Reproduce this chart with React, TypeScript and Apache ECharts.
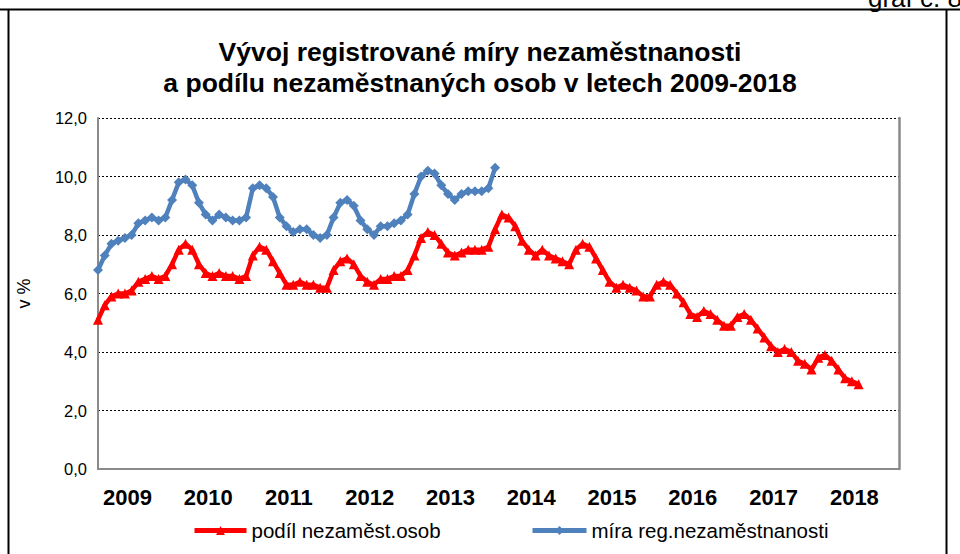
import React, { useEffect, useRef } from "react";
import * as echarts from "echarts";

const years = ["2009", "2010", "2011", "2012", "2013", "2014", "2015", "2016", "2017", "2018"];
const months = ["01", "02", "03", "04", "05", "06", "07", "08", "09", "10", "11", "12"];
const categories = years.flatMap((y) => months.map((m) => `${y}-${m}`));

const yTicks = [0, 2, 4, 6, 8, 10, 12];

// podíl nezaměstnaných osob (Jan 2009 – Jun 2018)
const podilNezamest = [
  5.1, 5.6, 5.9, 6.0, 6.0, 6.1, 6.4, 6.5, 6.6, 6.5, 6.6, 7.0,
  7.5, 7.7, 7.5, 7.0, 6.7, 6.6, 6.7, 6.6, 6.6, 6.5, 6.6, 7.3,
  7.6, 7.5, 7.1, 6.7, 6.3, 6.3, 6.4, 6.3, 6.3, 6.2, 6.2, 6.8,
  7.1, 7.2, 7.0, 6.6, 6.4, 6.3, 6.5, 6.5, 6.6, 6.6, 6.8, 7.3,
  7.9, 8.1, 8.0, 7.7, 7.4, 7.3, 7.4, 7.5, 7.5, 7.5, 7.6, 8.2,
  8.7, 8.6, 8.3, 7.8, 7.5, 7.3, 7.5, 7.3, 7.2, 7.1, 7.0, 7.5,
  7.7, 7.6, 7.2, 6.8, 6.4, 6.2, 6.3, 6.2, 6.1, 5.9, 5.9, 6.3,
  6.4, 6.3, 6.0, 5.7, 5.3, 5.2, 5.4, 5.3, 5.1, 4.9, 4.9, 5.2,
  5.3, 5.1, 4.8, 4.5, 4.2, 4.0, 4.1, 4.0, 3.7, 3.6, 3.4, 3.8,
  3.9, 3.7, 3.4, 3.1, 3.0, 2.9,
];

// míra registrované nezaměstnanosti (Jan 2009 – Dec 2013)
const miraRegNezam = [
  6.8, 7.3, 7.7, 7.8, 7.9, 8.0, 8.4, 8.5, 8.6, 8.5, 8.6, 9.2,
  9.8, 9.9, 9.7, 9.1, 8.7, 8.5, 8.7, 8.6, 8.5, 8.5, 8.6, 9.6,
  9.7, 9.6, 9.3, 8.6, 8.3, 8.1, 8.2, 8.2, 8.0, 7.9, 8.0, 8.6,
  9.1, 9.2, 9.0, 8.5, 8.2, 8.0, 8.3, 8.3, 8.4, 8.5, 8.7, 9.4,
  10.0, 10.2, 10.1, 9.7, 9.4, 9.2, 9.4, 9.5, 9.5, 9.5, 9.6, 10.3,
];

const seriesNames = ["podíl nezaměst.osob", "míra reg.nezaměstnanosti"];
const titleLines = ["Vývoj registrované míry nezaměstnanosti", "a podílu nezaměstnaných osob v letech 2009-2018"];

const FONT = "'Liberation Sans', Arial, sans-serif";

export default function App() {
  const ref = useRef<HTMLDivElement>(null);
  useEffect(() => {
    if (!ref.current) return;
    const chart = echarts.init(ref.current, null, { renderer: "svg" });
    chart.setOption({
      animation: false,
      backgroundColor: "#ffffff",
      textStyle: { fontFamily: FONT },
      title: {
        text: titleLines.join("\n"),
        left: "center",
        top: 31,
        textStyle: { fontFamily: FONT, fontSize: 26.5, fontWeight: "bold", color: "#000", lineHeight: 31 },
      },
      legend: [
        {
          data: [seriesNames[0]],
          left: 187,
          top: 515,
          itemWidth: 52,
          itemHeight: 11,
          itemGap: 6,
          lineStyle: { width: 5 },
          textStyle: { fontFamily: FONT, fontSize: 20.5, color: "#000" },
        },
        {
          data: [seriesNames[1]],
          left: 525,
          top: 515,
          itemWidth: 54,
          itemHeight: 11,
          lineStyle: { width: 5 },
          textStyle: { fontFamily: FONT, fontSize: 20.5, color: "#000" },
        },
      ],
      grid: {
        left: 98,
        top: 118,
        width: 801,
        height: 351,
        show: false,
      },
      xAxis: {
        type: "category",
        data: categories,
        boundaryGap: false,
        axisLine: { lineStyle: { color: "#8a8a8a", width: 2 } },
        axisTick: { show: false },
        axisLabel: {
          interval: (index: number) => index % 12 === 4,
          formatter: (v: string) => v.slice(0, 4),
          fontFamily: FONT,
          fontSize: 22,
          fontWeight: "bold",
          color: "#000",
          margin: 17,
          padding: [0, 0, 0, 5],
        },
        splitLine: { show: false },
      },
      yAxis: [
        {
          type: "value",
          min: yTicks[0],
          max: yTicks[yTicks.length - 1],
          interval: 2,
          name: "v %",
          nameLocation: "middle",
          nameRotate: 90,
          nameGap: 65,
          nameTextStyle: { fontFamily: FONT, fontSize: 18, color: "#000" },
          axisLine: { show: true, lineStyle: { color: "#8a8a8a", width: 2 } },
          axisTick: { show: false },
          axisLabel: {
            formatter: (v: number) => v.toFixed(1).replace(".", ","),
            fontFamily: FONT,
            fontSize: 16.5,
            color: "#000",
            margin: 11,
          },
          splitLine: { lineStyle: { color: "#000", type: [2, 2], width: 1 } },
        },
        {
          type: "value",
          position: "right",
          min: yTicks[0],
          max: yTicks[yTicks.length - 1],
          interval: 2,
          axisLine: { show: true, lineStyle: { color: "#8a8a8a", width: 2.5 } },
          axisTick: { show: false },
          axisLabel: { show: false },
          splitLine: { show: false },
        },
      ],
      series: [
        {
          name: seriesNames[0],
          type: "line",
          data: podilNezamest,
          symbol: "triangle",
          symbolSize: 10,
          showAllSymbol: true,
          lineStyle: { color: "#ff0000", width: 4.5 },
          itemStyle: { color: "#ff0000" },
        },
        {
          name: seriesNames[1],
          type: "line",
          data: miraRegNezam,
          symbol: "diamond",
          symbolSize: 10,
          showAllSymbol: true,
          lineStyle: { color: "#4f81bd", width: 4.5 },
          itemStyle: { color: "#4f81bd" },
        },
      ],
      graphic: [
        { type: "line", shape: { x1: 0, y1: 9.5, x2: 960, y2: 9.5 }, style: { stroke: "#000", lineWidth: 2 } },
        { type: "line", shape: { x1: 8.5, y1: 9, x2: 8.5, y2: 554 }, style: { stroke: "#000", lineWidth: 2 } },
        { type: "line", shape: { x1: 946.5, y1: 9, x2: 946.5, y2: 554 }, style: { stroke: "#000", lineWidth: 2 } },
        {
          type: "text",
          x: 868,
          y: 11,
          style: { text: "graf č. 8", font: `26px ${FONT}`, fill: "#000", verticalAlign: "bottom" },
        },
      ],
    });
    return () => chart.dispose();
  }, []);
  return <div ref={ref} style={{ position: "fixed", left: 0, top: 0, width: 960, height: 554 }} />;
}
